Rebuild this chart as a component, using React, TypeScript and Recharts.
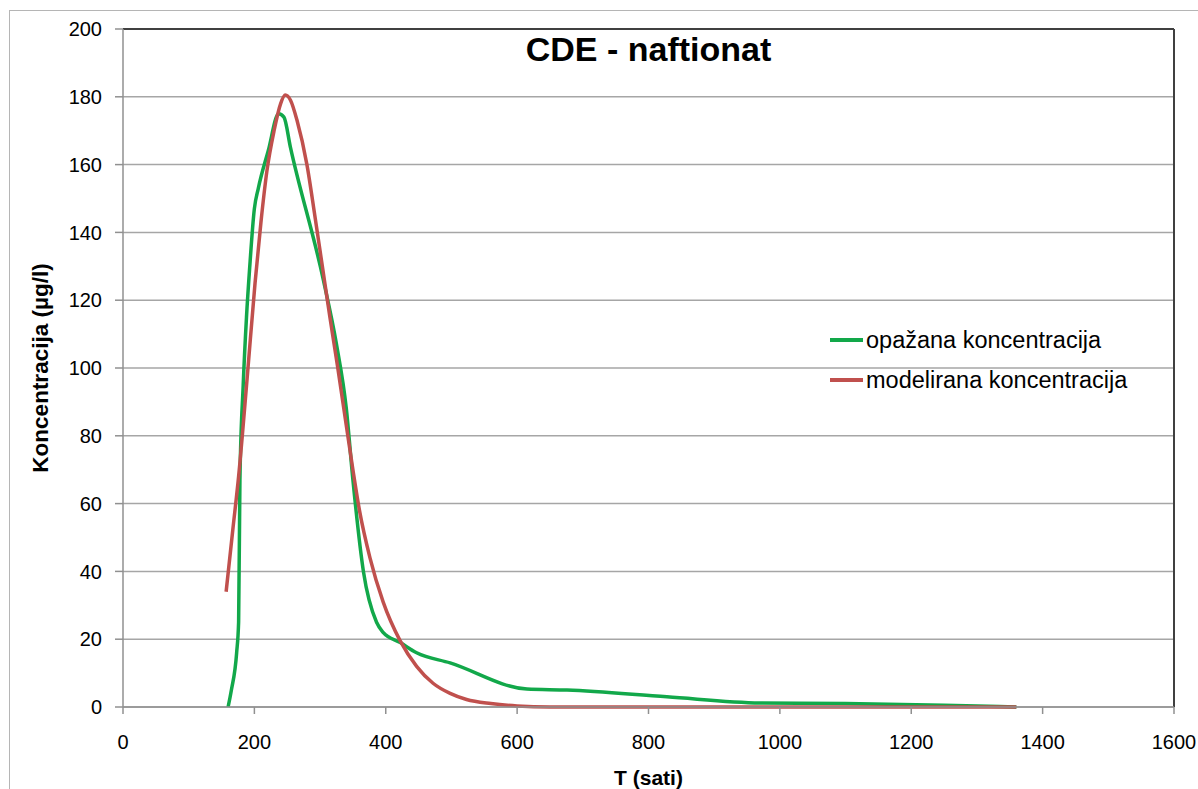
import React from 'react';
import { LineChart, Line, XAxis, YAxis, CartesianGrid, ReferenceLine, Legend } from 'recharts';

const observedT = [160, 165, 173, 176, 178, 183, 188, 193, 200, 206, 221, 237, 245, 255, 305, 325, 340, 350, 366, 386, 396, 422, 447, 498, 615, 676, 828, 970, 1100, 1250, 1360];
const observedC = [0, 5, 16, 25, 67, 95, 115, 130, 147, 153, 164, 175, 174, 165, 126, 107, 88, 67, 40, 25, 22, 19, 16, 13, 5.3, 5, 3, 1.2, 1.0, 0.5, 0];

const modelT = [157, 167, 176, 189, 201, 210, 219, 230, 240, 247, 255, 265, 280, 292, 305, 315, 327, 340, 350, 360, 376, 396, 422, 447, 472, 498, 523, 560, 600, 650, 800, 1000, 1200, 1360];
const modelC = [34, 52, 68, 97, 125, 143, 158, 170, 178, 180.5, 179, 173, 160, 145, 128, 115, 100, 83, 70, 58, 44, 31, 19.5, 12, 7, 4, 2.2, 1, 0.3, 0, 0, 0, 0, 0];

const xTicks = [0, 200, 400, 600, 800, 1000, 1200, 1400, 1600];
const yTicks = [0, 20, 40, 60, 80, 100, 120, 140, 160, 180, 200];

const seriesNames = ['opažana koncentracija', 'modelirana koncentracija'];
const seriesColors = ['#12a84a', '#c0504d'];

const observed = observedT.map((t, i) => ({ t, c: observedC[i] }));
const model = modelT.map((t, i) => ({ t, c: modelC[i] }));

const FONT = '"Liberation Sans", Arial, sans-serif';

const LegendContent = () => (
  <div style={{ fontFamily: FONT, fontSize: 23.5, color: '#000' }}>
    {seriesNames.map((n, i) => (
      <div key={n} style={{ display: 'flex', alignItems: 'center', height: 40 }}>
        <div style={{ width: 33, height: 3.5, background: seriesColors[i], marginRight: 3 }} />
        <span>{n}</span>
      </div>
    ))}
  </div>
);

export default function App() {
  return (
    <div style={{ position: 'absolute', left: 0, top: 0, width: 1198, height: 789, background: '#fff' }}>
      <div style={{ position: 'absolute', left: 9, top: 10, width: 1200, height: 800, borderLeft: '1px solid #b5b5b5', borderTop: '1px solid #b5b5b5' }} />
      <div style={{ position: 'absolute', left: 123, width: 1051, top: 30, textAlign: 'center', fontFamily: FONT, fontWeight: 'bold', fontSize: 34, color: '#000' }}>
        CDE - naftionat
      </div>
      <LineChart width={1198} height={789} margin={{ top: 29, right: 24, bottom: 0, left: 0 }} style={{ position: 'absolute', left: 0, top: 0 }}>
        <CartesianGrid horizontal={true} vertical={false} stroke="#a6a6a6" strokeWidth={1.5} />
        <XAxis
          type="number"
          dataKey="t"
          domain={[0, 1600]}
          ticks={xTicks}
          height={82}
          allowDataOverflow
          stroke="#909090"
          strokeWidth={1.5}
          tickSize={7}
          tickMargin={21}
          tick={{ fill: '#000', fontSize: 20, fontFamily: FONT }}
          label={{ value: 'T (sati)', position: 'insideBottom', offset: 4, style: { fill: '#000', fontSize: 21, fontWeight: 'bold', fontFamily: FONT } }}
        />
        <YAxis
          type="number"
          domain={[0, 200]}
          ticks={yTicks}
          width={123}
          stroke="#909090"
          strokeWidth={1.5}
          tickSize={8}
          tickMargin={13}
          tick={{ fill: '#000', fontSize: 20, fontFamily: FONT }}
          label={{ value: 'Koncentracija (µg/l)', angle: -90, position: 'insideLeft', offset: 40, style: { textAnchor: 'middle', fill: '#000', fontSize: 22.5, fontWeight: 'bold', fontFamily: FONT } }}
        />
        <ReferenceLine y={200} stroke="#404040" strokeWidth={2} />
        <ReferenceLine x={1600} stroke="#404040" strokeWidth={2} />
        <Legend layout="horizontal" verticalAlign="middle" align="center" content={LegendContent} wrapperStyle={{ left: 830, top: 320, width: 340 }} />
        <Line data={observed} dataKey="c" name={seriesNames[0]} type="monotone" stroke={seriesColors[0]} strokeWidth={3.5} dot={false} isAnimationActive={false} />
        <Line data={model} dataKey="c" name={seriesNames[1]} type="monotone" stroke={seriesColors[1]} strokeWidth={3.5} dot={false} isAnimationActive={false} />
      </LineChart>
    </div>
  );
}
